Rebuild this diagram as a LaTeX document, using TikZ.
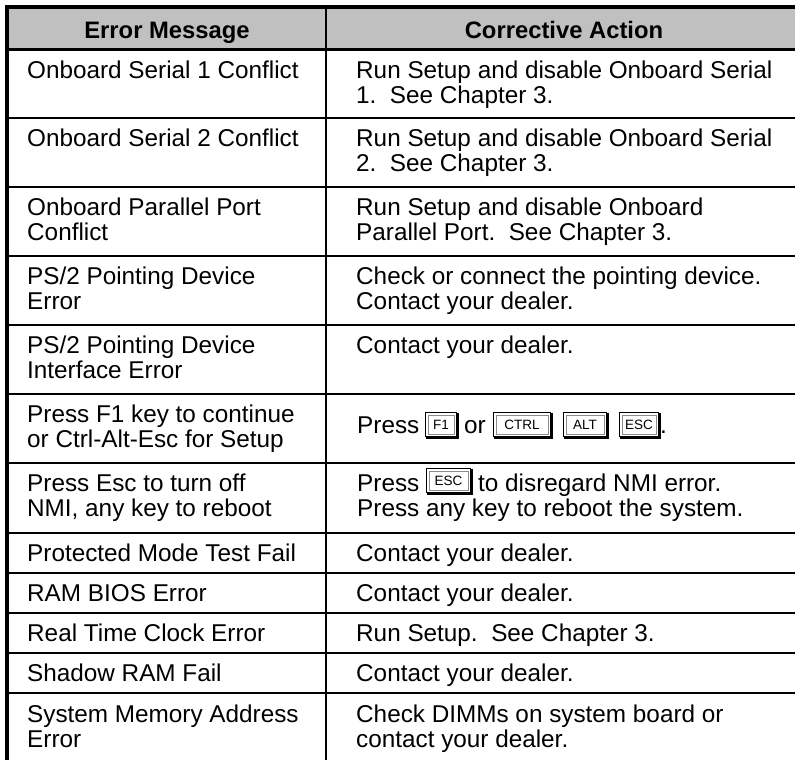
\documentclass[tikz,border=0pt]{standalone}
\usepackage{fontspec}
\setmainfont{Liberation Sans}
\definecolor{headgray}{HTML}{C0C0C0}
\newcommand\kcapdraw[5]{%
  \node[keybox, minimum width=#4pt] (#1) at (#2,#3) {#5};
  \draw[keyin] ([shift={(3,3)}]#1.north west) rectangle ([shift={(-3,-3)}]#1.south east);
  \draw[line width=1.8pt] ([shift={(1,1)}]#1.south west) -- ([shift={(1,1)}]#1.south east) -- ([shift={(1,1)}]#1.north east);
}
\begin{document}
\begin{tikzpicture}[x=1pt,y=-1pt,
  cell/.style={anchor=base west, inner sep=0pt, font=\fontsize{24.3}{26}\selectfont},
  head/.style={anchor=base, inner sep=0pt, font=\fontsize{23.8}{26}\selectfont\bfseries},
  keybox/.style={draw=black, line width=1.1pt, fill=white, inner sep=0pt, anchor=north west,
    minimum height=24pt, font=\fontsize{13.5}{13.5}\selectfont},
  keyin/.style={draw=black!45, line width=0.7pt},
  thickrule/.style={line width=4pt},
  rule/.style={line width=2pt}]
\useasboundingbox (0,0) rectangle (795,760);
\fill[headgray] (9,9) rectangle (795,48);
\draw[thickrule] (5,7) -- (795,7);
\draw[thickrule] (7,5) -- (7,760);
\draw[line width=3.5pt] (9,49.5) -- (795,49.5);
\foreach \y in {118,187,256,325,394,463,533,573,613,653,693} \draw[rule] (9,\y) -- (795,\y);
\draw[rule] (326,9) -- (326,760);
% header
\node[head] (hErr) at (167,39) {Error Message};
\node[head] (hAct) at (564,39) {Corrective Action};
% row 1
\node[cell] (l1a) at (27,78) {Onboard Serial 1 Conflict};
\node[cell] (r1a) at (356,78) {Run Setup and disable Onboard Serial};
\node[cell] (r1b) at (356,103) {1.~~See Chapter 3.};
% row 2
\node[cell] (l2a) at (27,146) {Onboard Serial 2 Conflict};
\node[cell] (r2a) at (356,146) {Run Setup and disable Onboard Serial};
\node[cell] (r2b) at (356,171) {2.~~See Chapter 3.};
% row 3
\node[cell] (l3a) at (27,215) {Onboard Parallel Port};
\node[cell] (l3b) at (27,240) {Conflict};
\node[cell] (r3a) at (356,215) {Run Setup and disable Onboard};
\node[cell] (r3b) at (356,240) {Parallel Port.~~See Chapter 3.};
% row 4
\node[cell] (l4a) at (27,284) {PS/2 Pointing Device};
\node[cell] (l4b) at (27,309) {Error};
\node[cell] (r4a) at (356,284) {Check or connect the pointing device.};
\node[cell] (r4b) at (356,309) {Contact your dealer.};
% row 5
\node[cell] (l5a) at (27,353) {PS/2 Pointing Device};
\node[cell] (l5b) at (27,378) {Interface Error};
\node[cell] (r5a) at (356,353) {Contact your dealer.};
% row 6
\node[cell] (l6a) at (27,422) {Press F1 key to continue};
\node[cell] (l6b) at (27,447) {or Ctrl-Alt-Esc for Setup};
\node[cell] (r6a) at (357,433) {Press};
\kcapdraw{kF}{425}{412}{31}{F1}
\node[cell] (r6or) at (464,433) {or};
\kcapdraw{kCtrl}{493}{412}{57}{CTRL}
\kcapdraw{kAlt}{563}{412}{43}{ALT}
\kcapdraw{kEsc}{619}{412}{39}{ESC}
\node[cell] (r6dot) at (660,433) {.};
% row 7
\node[cell] (l7a) at (27,491) {Press Esc to turn off};
\node[cell] (l7b) at (27,516) {NMI, any key to reboot};
\node[cell] (r7a) at (357,491) {Press};
\kcapdraw{kEscB}{426}{468}{44}{ESC}
\node[cell] (r7c) at (478,491) {to disregard NMI error.};
\node[cell] (r7b) at (357,516) {Press any key to reboot the system.};
% row 8
\node[cell] (l8a) at (27,561) {Protected Mode Test Fail};
\node[cell] (r8a) at (356,561) {Contact your dealer.};
% row 9
\node[cell] (l9a) at (27,601) {RAM BIOS Error};
\node[cell] (r9a) at (356,601) {Contact your dealer.};
% row 10
\node[cell] (l10a) at (27,641) {Real Time Clock Error};
\node[cell] (r10a) at (356,641) {Run Setup.~~See Chapter 3.};
% row 11
\node[cell] (l11a) at (27,681) {Shadow RAM Fail};
\node[cell] (r11a) at (356,681) {Contact your dealer.};
% row 12
\node[cell] (l12a) at (27,722) {System Memory Address};
\node[cell] (l12b) at (27,747) {Error};
\node[cell] (r12a) at (356,722) {Check DIMMs on system board or};
\node[cell] (r12b) at (356,747) {contact your dealer.};
\end{tikzpicture}
\end{document}
